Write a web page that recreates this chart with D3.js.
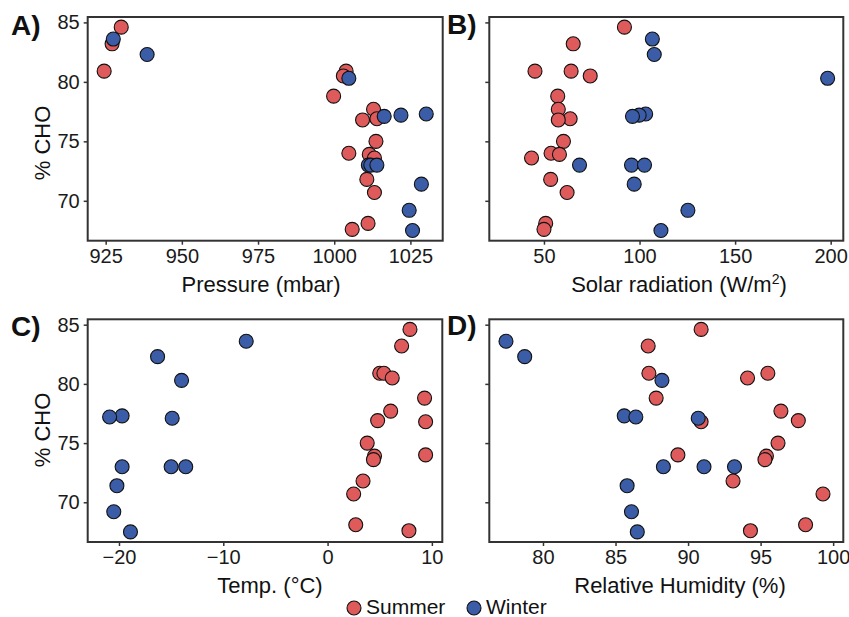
<!DOCTYPE html>
<html><head><meta charset="utf-8">
<script src="https://cdn.jsdelivr.net/npm/d3@7/dist/d3.min.js"></script>
<style>body{margin:0;background:#fff}text{font-family:"Liberation Sans",Arial,Helvetica,sans-serif}</style>
</head><body><svg id="chart" width="849" height="617"></svg>
<script>
// ---------- data ----------
const seasons = ["Summer", "Winter"];
const seasonColors = ["#DE5A5B", "#3B5CA6"];

const summerCHO      = [84.6, 83.2, 80.9, 80.9, 80.5, 78.8, 77.7, 76.9, 76.8, 75.0, 74.0, 73.9, 73.6, 71.8, 70.7, 68.1, 67.6];
const summerPressure = [930.1, 927.1, 924.5, 1003.9, 1003.0, 999.8, 1012.9, 1014.0, 1009.3, 1013.7, 1004.8, 1011.5, 1013.2, 1010.7, 1013.2, 1011.1, 1005.9];
const summerSolar    = [92.1, 65.3, 45.3, 64.2, 74.2, 57.2, 57.5, 63.7, 57.5, 60.2, 53.7, 58.1, 43.5, 53.5, 62.1, 50.9, 50.0];
const summerTemp     = [7.9, 7.1, 5.0, 5.4, 6.2, 9.3, 6.05, 4.8, 9.4, 3.8, 9.4, 4.5, 4.4, 3.4, 2.5, 2.7, 7.8];
const summerRH       = [90.9, 87.25, 87.3, 95.5, 94.1, 87.8, 96.4, 97.6, 90.9, 96.2, 89.3, 95.4, 95.3, 93.1, 99.3, 98.1, 94.3];

const winterCHO      = [83.6, 82.3, 80.3, 77.3, 77.2, 77.1, 73.0, 73.0, 73.0, 71.4, 69.2, 67.5];
const winterPressure = [927.5, 938.6, 1004.8, 1030.2, 1021.9, 1016.4, 1011.2, 1012.0, 1014.0, 1028.6, 1024.6, 1025.7];
const winterSolar    = [106.7, 107.7, 198.4, 103.2, 99.8, 96.3, 68.6, 95.8, 102.6, 97.2, 125.3, 111.2];
const winterTemp     = [-7.8, -16.3, -14.0, -19.7, -20.9, -14.9, -19.7, -15.0, -13.6, -20.2, -20.5, -18.9];
const winterRH       = [77.45, 78.74, 88.2, 85.6, 86.4, 90.7, 88.3, 91.1, 93.2, 85.8, 86.1, 86.5];

const yTicks = [70, 75, 80, 85];
const pressureTicks = [925, 950, 975, 1000, 1025];
const solarTicks = [50, 100, 150, 200];
const tempTicks = [-20, -10, 0, 10];
const rhTicks = [80, 85, 90, 95, 100];

const panelLetters = ["A)", "B)", "C)", "D)"];
const yTitle = "% CHO";

// ---------- layout ----------
const svg = d3.select("#chart");
const yDomain = [66.645, 85.455];
const axisColor = "#333333";

const panels = [
  {letter: panelLetters[0], x0: 87.7, x1: 442.7, y0: 17, y1: 240.7, domain: [919.1, 1035.6], ticks: pressureTicks,
   s: summerPressure, w: winterPressure, yLabels: true, titleX: 261, titleY: 292, yTitleY: 143, lx: 11, ly: 35},
  {letter: panelLetters[1], x0: 489.3, x1: 843.3, y0: 17, y1: 240.7, domain: [21.4, 206.6], ticks: solarTicks,
   s: summerSolar, w: winterSolar, yLabels: false, titleX: 679, titleY: 292, lx: 447, ly: 34},
  {letter: panelLetters[2], x0: 87.7, x1: 442.3, y0: 319.3, y1: 542, domain: [-23.0, 11.0], ticks: tempTicks,
   s: summerTemp, w: winterTemp, yLabels: true, titleX: 270, titleY: 593, yTitleY: 430, lx: 11, ly: 336},
  {letter: panelLetters[3], x0: 489.3, x1: 843.3, y0: 319.3, y1: 542, domain: [76.3, 100.7], ticks: rhTicks,
   s: summerRH, w: winterRH, yLabels: false, titleX: 680, titleY: 593, lx: 447, ly: 335}
];

panels.forEach((p, i) => {
  const x = d3.scaleLinear().domain(p.domain).range([p.x0, p.x1]);
  const y = d3.scaleLinear().domain(yDomain).range([p.y1, p.y0]);

  const gx = svg.append("g").attr("transform", `translate(0,${p.y1})`)
    .call(d3.axisBottom(x).tickValues(p.ticks).tickSize(4).tickPadding(4).tickFormat(d3.format("d")));
  gx.select(".domain").remove();
  gx.selectAll(".tick line").attr("stroke", axisColor).attr("stroke-width", 1.5);
  gx.selectAll(".tick text").attr("fill", "#1a1a1a").attr("font-size", 20).attr("font-family", "Liberation Sans, Arial, sans-serif");

  const gy = svg.append("g").attr("transform", `translate(${p.x0},0)`)
    .call(d3.axisLeft(y).tickValues(yTicks).tickSize(4).tickPadding(4).tickFormat(p.yLabels ? d3.format("d") : () => ""));
  gy.select(".domain").remove();
  gy.selectAll(".tick line").attr("stroke", axisColor).attr("stroke-width", 1.5);
  gy.selectAll(".tick text").attr("fill", "#1a1a1a").attr("font-size", 20).attr("font-family", "Liberation Sans, Arial, sans-serif");

  const pts = [];
  p.s.forEach((v, k) => pts.push({x: v, y: summerCHO[k], c: 0}));
  p.w.forEach((v, k) => pts.push({x: v, y: winterCHO[k], c: 1}));
  svg.append("g").selectAll("circle").data(pts).join("circle")
    .attr("cx", d => x(d.x)).attr("cy", d => y(d.y)).attr("r", 7)
    .attr("fill", d => seasonColors[d.c]).attr("stroke", "#111").attr("stroke-width", 1.1);

  svg.append("rect").attr("x", p.x0).attr("y", p.y0).attr("width", p.x1 - p.x0).attr("height", p.y1 - p.y0)
    .attr("fill", "none").attr("stroke", axisColor).attr("stroke-width", 2);

  svg.append("text").attr("x", p.lx).attr("y", p.ly).attr("font-size", 28).attr("font-weight", "bold")
    .attr("fill", "#111").text(p.letter);

  if (p.yLabels) {
    svg.append("text").attr("transform", `translate(50,${p.yTitleY}) rotate(-90)`).attr("text-anchor", "middle")
      .attr("font-size", 22).attr("fill", "#111").text(yTitle);
  }
});

const xt = (p, txt) => svg.append("text").attr("x", p.titleX).attr("y", p.titleY).attr("text-anchor", "middle")
  .attr("font-size", 22).attr("fill", "#111").text(txt);
xt(panels[0], "Pressure (mbar)");
const sol = svg.append("text").attr("x", panels[1].titleX).attr("y", panels[1].titleY).attr("text-anchor", "middle")
  .attr("font-size", 22).attr("fill", "#111");
sol.append("tspan").text("Solar radiation (W/m");
sol.append("tspan").attr("font-size", 14).attr("dy", -8).text("2");
sol.append("tspan").attr("dy", 8).text(")");
xt(panels[2], "Temp. (°C)");
xt(panels[3], "Relative Humidity (%)");

// legend
const legX = [354, 474];
seasons.forEach((s, i) => {
  svg.append("circle").attr("cx", legX[i]).attr("cy", 608).attr("r", 7).attr("fill", seasonColors[i])
    .attr("stroke", "#111").attr("stroke-width", 1.1);
  svg.append("text").attr("x", legX[i] + 12).attr("y", 614).attr("font-size", 21).attr("fill", "#111").text(s);
});
</script>
</body></html>
